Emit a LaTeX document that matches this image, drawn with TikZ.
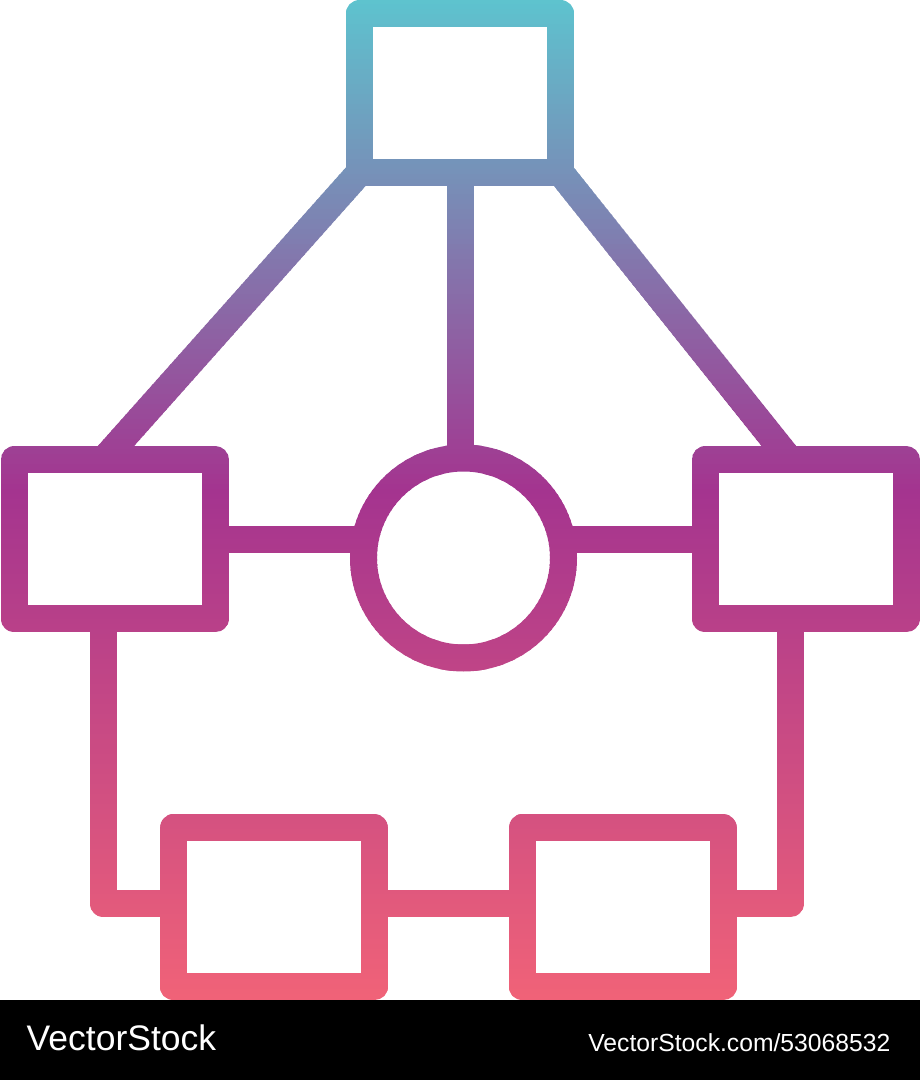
\documentclass[tikz,border=0pt]{standalone}
\usepackage{fontspec}
\setmainfont{Liberation Sans}
\definecolor{gA}{RGB}{93,196,207}
\definecolor{gB}{RGB}{164,52,143}
\definecolor{gC}{RGB}{240,98,120}
\colorlet{bandcol}{gA}
\tikzset{
  box/.style={rectangle, draw=bandcol, line width=27pt, line join=round,
    minimum width=201pt, minimum height=159pt, inner sep=0pt, outer sep=0pt},
  ring/.style={circle, draw=bandcol, line width=27pt,
    minimum size=200pt, inner sep=0pt, outer sep=0pt},
  conn/.style={draw=bandcol, line width=27pt, line join=round, line cap=butt},
  wmark/.style={anchor=base west, inner sep=0pt, outer sep=0pt, text=white}
}
\newcommand\drawicon{%
  \node[box]  (top)   at (460,987)     {};
  \node[box]  (left)  at (114.5,540.5) {};
  \node[box]  (right) at (805.5,540.5) {};
  \node[ring] (circ)  at (463.5,522)   {};
  \node[box]  (bl)    at (273.8,172.5) {};
  \node[box]  (br)    at (622.5,172.5) {};
  \coordinate (jl) at (103.5,176);
  \coordinate (jr) at (790,176);
  \draw[conn] (top.south west) -- (jl |- left.north);
  \draw[conn] (top.south east) -- (jr |- right.north);
  \draw[conn] (top.south) -- (top.south |- circ.north);
  \draw[conn] (left.east) -- (left.east -| circ.west);
  \draw[conn] (right.west) -- (right.west -| circ.east);
  \draw[conn] (jl |- left.south) -- (jl) -- (jl -| bl.west);
  \draw[conn] (jr |- right.south) -- (jr) -- (jr -| br.east);
  \draw[conn] (bl.east |- jl) -- (br.west |- jl);
}
\begin{document}
\begin{tikzpicture}[x=1pt,y=1pt]
  \useasboundingbox (0,0) rectangle (920,1080);
  \fill[white] (0,0) rectangle (920,1080);
  \foreach \i in {0,...,199}{
    \pgfmathsetmacro\ytop{1080-\i*5}
    \pgfmathsetmacro\ybot{1080-\i*5-5.6}
    \pgfmathsetmacro\ym{\i*5+2.5}
    \ifdim\ym pt<490pt
      \pgfmathtruncatemacro\pc{round(\ym/490*100)}
      \colorlet{bandcol}{gB!\pc!gA}
    \else
      \pgfmathtruncatemacro\pc{round((\ym-490)/510*100)}
      \colorlet{bandcol}{gC!\pc!gB}
    \fi
    \begin{scope}
      \clip (0,\ybot) rectangle (920,\ytop);
      \drawicon
    \end{scope}
  }
  \fill[black] (0,0) rectangle (920,80);
  \node[wmark, font=\fontsize{35.5}{40}\selectfont] (wm) at (26.7,29) {VectorStock};
  \node[wmark, font=\fontsize{24.7}{28}\selectfont] (url) at (588.3,28.3) {VectorStock.com/53068532};
\end{tikzpicture}
\end{document}
